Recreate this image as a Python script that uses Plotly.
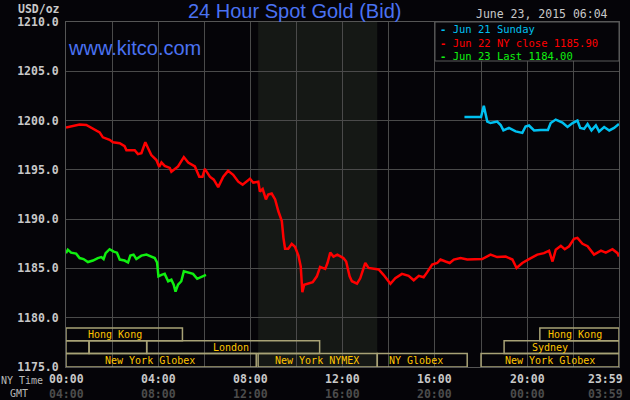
import plotly.graph_objects as go

# ---------------- data (hours in NY time, price USD/oz) ----------------
red_hours = [0, 0.3, 0.59, 0.88, 1.17, 1.46, 1.6, 1.89, 2.04, 2.33, 2.54, 2.62, 2.98, 3.12, 3.27,
             3.44, 3.56, 3.70, 3.92, 4.04, 4.14, 4.28, 4.5, 4.57, 4.86, 5.11, 5.3, 5.59, 5.78, 5.92,
             6.02, 6.24, 6.41, 6.6, 6.82, 7.03, 7.25, 7.47, 7.66, 7.98, 8.12, 8.34, 8.41, 8.53, 8.67,
             8.77, 8.92, 9.07, 9.21, 9.36, 9.43, 9.5, 9.64, 9.79, 9.93, 10.08, 10.18, 10.25, 10.33,
             10.51, 10.7, 10.88, 11.02, 11.24, 11.34, 11.46, 11.6, 11.77, 12.03, 12.15, 12.3, 12.4,
             12.62, 12.76, 12.98, 13.12, 13.34, 13.56, 13.77, 14.07, 14.28, 14.57, 14.86, 15.08,
             15.3, 15.51, 15.66, 15.88, 16.1, 16.24, 16.46, 16.64, 16.82, 17.11, 17.4, 18.05, 18.41,
             18.7, 19.07, 19.36, 19.54, 19.79, 20.08, 20.44, 20.73, 20.95, 21.1, 21.24, 21.46, 21.63,
             21.82, 22.03, 22.18, 22.4, 22.62, 22.9, 23.2, 23.41, 23.7, 23.92, 23.98]
red_prices = [1199.3, 1199.45, 1199.6, 1199.55, 1199.2, 1198.8, 1198.3, 1198.05, 1197.8, 1197.7,
              1197.4, 1197.0, 1197.0, 1196.6, 1196.7, 1197.8, 1197.2, 1196.5, 1196.0, 1195.3,
              1195.75, 1195.4, 1195.2, 1194.8, 1195.35, 1196.3, 1195.75, 1195.35, 1194.3, 1194.3,
              1195.1, 1194.3, 1194.0, 1193.25, 1194.3, 1194.9, 1194.5, 1193.8, 1193.5, 1194.1,
              1193.7, 1193.8, 1192.8, 1193.05, 1192.0, 1192.5, 1192.6, 1192.0, 1190.8, 1189.8,
              1188.1, 1187.0, 1187.0, 1187.5, 1187.2, 1186.3, 1185.2, 1182.6, 1183.35, 1183.5,
              1183.6, 1184.2, 1185.15, 1184.95, 1185.55, 1186.6, 1186.2, 1186.4, 1186.05, 1185.7,
              1184.2, 1183.7, 1183.45, 1184.0, 1185.55, 1185.05, 1184.95, 1184.9, 1184.35, 1183.45,
              1184.0, 1184.45, 1184.25, 1183.8, 1184.25, 1184.1, 1184.6, 1185.4, 1185.55, 1185.9,
              1185.7, 1185.55, 1185.9, 1186.05, 1185.9, 1185.95, 1186.4, 1186.15, 1186.2, 1185.9,
              1185.05, 1185.55, 1185.95, 1186.4, 1186.55, 1186.8, 1185.7, 1186.9, 1187.3, 1186.95,
              1187.25, 1188.0, 1188.1, 1187.5, 1187.25, 1186.4, 1186.8, 1186.6, 1186.95, 1186.55,
              1186.2]

cyan_hours = [17.28, 18.0, 18.12, 18.2, 18.27, 18.41, 18.7, 18.85, 18.97, 19.21, 19.5, 19.79, 19.93,
              20.08, 20.3, 20.59, 20.9, 21.02, 21.24, 21.53, 21.75, 21.97, 22.18, 22.3, 22.47,
              22.62, 22.79, 22.98, 23.12, 23.34, 23.56, 23.77, 23.98]
cyan_prices = [1200.35, 1200.35, 1201.5, 1200.75, 1199.9, 1199.75, 1199.9, 1199.55, 1199.0, 1199.25,
               1198.9, 1198.75, 1199.4, 1199.5, 1199.0, 1199.05, 1199.05, 1199.75, 1200.1, 1199.8,
               1199.35, 1199.75, 1200.0, 1199.25, 1199.15, 1199.65, 1199.0, 1199.5, 1198.9,
               1199.35, 1199.0, 1199.25, 1199.65]

green_hours = [0, 0.08, 0.22, 0.44, 0.59, 0.76, 0.95, 1.17, 1.38, 1.53, 1.63, 1.72, 1.89, 2.07,
               2.21, 2.33, 2.54, 2.69, 2.79, 2.93, 3.05, 3.27, 3.49, 3.70, 3.85, 3.95, 4.01, 4.14,
               4.28, 4.43, 4.57, 4.67, 4.75, 4.86, 5.0, 5.11, 5.3, 5.51, 5.69, 5.88, 6.07]
green_prices = [1186.55, 1186.9, 1186.6, 1186.5, 1186.05, 1185.95, 1185.65, 1185.8, 1186.05,
                1186.15, 1185.95, 1186.55, 1186.95, 1186.7, 1186.6, 1185.9, 1185.8, 1185.6, 1186.3,
                1186.4, 1185.95, 1186.3, 1186.4, 1186.15, 1186.05, 1185.6, 1184.2, 1184.35, 1184.45,
                1183.7, 1183.85, 1183.35, 1182.65, 1183.35, 1183.7, 1184.7, 1184.6, 1184.45,
                1183.95, 1184.15, 1184.35]

series_names = ["Jun 21 Sunday", "Jun 22 NY close 1185.90", "Jun 23 Last 1184.00"]

ny_tick_hours = [0, 4, 8, 12, 16, 20, 23.983]
ny_tick_labels = ["00:00", "04:00", "08:00", "12:00", "16:00", "20:00", "23:59"]
gmt_tick_labels = ["04:00", "08:00", "12:00", "16:00", "20:00", "00:00", "03:59"]

y_ticks = [1175, 1180, 1185, 1190, 1195, 1200, 1205, 1210]

# market sessions: (row, start hour, end hour, label, label hour)
sessions = [
    (1, 0, 5.05, "Hong Kong", 2.12),
    (1, 20.55, 23.983, "Hong Kong", 22.08),
    (2, 0, 1.0, "", None),
    (2, 1.0, 3.5, "", None),
    (2, 3.5, 11.0, "London", 7.17),
    (2, 19.0, 23.983, "Sydney", 21.0),
    (3, 0, 8.25, "New York Globex", 3.63),
    (3, 8.333, 13.5, "New York NYMEX", 10.9),
    (3, 13.5, 17.4, "NY Globex", 15.2),
    (3, 18.0, 23.983, "New York Globex", 21.0),
]
nymex_open, nymex_close = 8.333, 13.5

# ---------------- styling ----------------
BG = "#050408"
GRID = "#4a4a4a"
MONO = "DejaVu Sans Mono"
RED, CYAN, GREEN = "#ff0000", "#00c0f0", "#10f010"

L, R, T, B = 66, 11, 22, 33
W_TOT, H_TOT = 630, 400
PW, PH = W_TOT - L - R, H_TOT - T - B


def pxx(x):
    return (x - L) / PW


def pxy(y):
    return (H_TOT - B - y) / PH


fig = go.Figure()
fig.add_trace(go.Scatter(x=red_hours, y=red_prices, mode="lines", name=series_names[1],
                         line=dict(color=RED, width=2.5)))
fig.add_trace(go.Scatter(x=cyan_hours, y=cyan_prices, mode="lines", name=series_names[0],
                         line=dict(color=CYAN, width=2.5)))
fig.add_trace(go.Scatter(x=green_hours, y=green_prices, mode="lines", name=series_names[2],
                         line=dict(color=GREEN, width=2.5)))

shapes = []
# NYMEX shaded hours
shapes.append(dict(type="rect", xref="x", yref="y", x0=nymex_open, x1=nymex_close,
                   y0=1175, y1=1210, fillcolor="#151815", line=dict(width=0), layer="below"))

# session boxes
row_edges = {1: (1177.67, 1178.96), 2: (1176.37, 1177.67), 3: (1175.0, 1176.37)}
annotations = []
for row, x0, x1, label, lx in sessions:
    y0, y1 = row_edges[row]
    shapes.append(dict(type="rect", xref="x", yref="y", x0=x0, x1=x1, y0=y0, y1=y1,
                       fillcolor="rgba(0,0,0,0)", line=dict(color="#a8a276", width=1.5),
                       layer="above"))
    if label:
        annotations.append(dict(x=lx, y=(y0 + y1) / 2, xref="x", yref="y", text=label,
                                showarrow=False, font=dict(family=MONO, size=10, color="#ffc400"),
                                xanchor="center", yanchor="middle"))

# legend box with one multi-line, multi-colour text
shapes.append(dict(type="rect", xref="paper", yref="paper", x0=pxx(435), x1=1, y0=pxy(61), y1=1,
                   fillcolor=BG, line=dict(color="#5a5a5a", width=1), layer="above"))
legend_colors = [CYAN, RED, GREEN]
legend_text = "<br>".join(
    f"<span style='color:{col}'><b>-</b> {nm}</span>" for nm, col in zip(series_names, legend_colors)
)
annotations.append(dict(x=pxx(439), y=pxy(42.4), xref="paper", yref="paper", text=legend_text,
                        showarrow=False, xanchor="left", yanchor="middle", align="left",
                        borderpad=0, font=dict(family=MONO, size=10.5, color=CYAN)))

# x tick labels (NY time and GMT)
for h, ny, gmt in zip(ny_tick_hours, ny_tick_labels, gmt_tick_labels):
    last = h == ny_tick_hours[-1]
    xa = "right" if last else "center"
    xp = pxx(625) if last else pxx(L + h * PW / 23.983)
    annotations.append(dict(x=xp, y=pxy(378.5), xref="paper", yref="paper", text=ny,
                            showarrow=False, xanchor=xa, yanchor="middle",
                            font=dict(family=MONO, size=11.5, color="#c8c8c8", weight="bold")))
    annotations.append(dict(x=xp, y=pxy(393.5), xref="paper", yref="paper", text=gmt,
                            showarrow=False, xanchor=xa, yanchor="middle",
                            font=dict(family=MONO, size=11.5, color="#4c4c4c", weight="bold")))

annotations += [
    dict(x=pxx(45), y=pxy(380), xref="paper", yref="paper", text="NY Time", showarrow=False,
         xanchor="right", yanchor="middle", font=dict(family=MONO, size=10, color="#b8b8b8")),
    dict(x=pxx(29.5), y=pxy(393.5), xref="paper", yref="paper", text="GMT", showarrow=False,
         xanchor="right", yanchor="middle", font=dict(family=MONO, size=10, color="#b8b8b8")),
    dict(x=pxx(62), y=pxy(8.5), xref="paper", yref="paper", text="USD/oz", showarrow=False,
         xanchor="right", yanchor="middle",
         font=dict(family=MONO, size=11.5, color="#c8c8c8", weight="bold")),
    dict(x=pxx(294.5), y=pxy(11), xref="paper", yref="paper", text="24 Hour Spot Gold (Bid)",
         showarrow=False, xanchor="center", yanchor="middle",
         font=dict(family="Liberation Sans", size=20, color="#4a72f2")),
    dict(x=pxx(66), y=pxy(48.5), xref="paper", yref="paper", text="www.kitco.com",
         showarrow=False, xanchor="left", yanchor="middle",
         font=dict(family="Liberation Sans", size=20, color="#4a72f2")),
    dict(x=pxx(609), y=pxy(14.3), xref="paper", yref="paper", text="June 23, 2015 06:04",
         showarrow=False, xanchor="right", yanchor="middle", borderpad=0,
         font=dict(family=MONO, size=11.5, color="#c8c8c8")),
]

fig.update_layout(
    width=W_TOT, height=H_TOT,
    margin=dict(l=L, r=R, t=T, b=B, pad=0),
    paper_bgcolor=BG, plot_bgcolor=BG,
    showlegend=False,
    shapes=shapes,
    annotations=annotations,
    xaxis=dict(range=[0, 23.983], tick0=0, dtick=2, showgrid=True, gridcolor=GRID, gridwidth=1,
               showticklabels=False, ticks="", zeroline=False, showline=True, linecolor="#555555",
               linewidth=1, mirror=True, fixedrange=True),
    yaxis=dict(range=[1175, 1210], tickvals=y_ticks, ticktext=[f"{v:.1f}" for v in y_ticks],
               showgrid=True, gridcolor=GRID, gridwidth=1, ticks="", zeroline=False,
               showline=True, linecolor="#555555", linewidth=1, mirror=True,
               tickfont=dict(family=MONO, size=11.5, color="#c8c8c8", weight="bold"),
               ticklabelstandoff=4, fixedrange=True),
)

fig.write_html(
    "out.html",
    config={"displayModeBar": False},
    post_script="document.body.style.margin='0';document.body.style.padding='0';"
                "document.body.style.background='" + BG + "';",
)
